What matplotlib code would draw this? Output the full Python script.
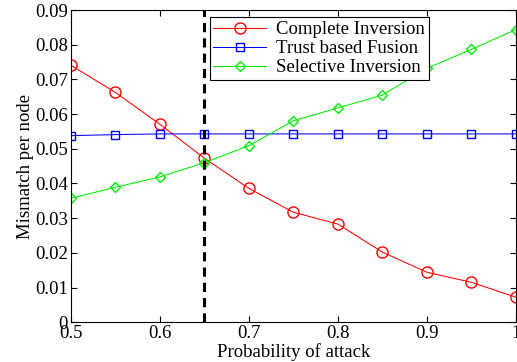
import matplotlib
matplotlib.use('Agg')
import matplotlib.pyplot as plt

# Data
p_attack = [0.5, 0.55, 0.6, 0.65, 0.7, 0.75, 0.8, 0.85, 0.9, 0.95, 1.0]
complete_inv = [0.0741, 0.0663, 0.0571, 0.0473, 0.0386, 0.0317, 0.0283, 0.0202, 0.0144, 0.0115, 0.0072]
trust_fusion = [0.0538, 0.0541, 0.0543, 0.0543, 0.0543, 0.0543, 0.0543, 0.0543, 0.0543, 0.0543, 0.0543]
selective_inv = [0.0357, 0.0389, 0.0419, 0.0460, 0.0509, 0.0581, 0.0618, 0.0655, 0.0732, 0.0787, 0.0844]
threshold = 0.65
xticks = [0.5, 0.6, 0.7, 0.8, 0.9, 1.0]
xticklabels = ['0.5', '0.6', '0.7', '0.8', '0.9', '1']
yticks = [0, 0.01, 0.02, 0.03, 0.04, 0.05, 0.06, 0.07, 0.08, 0.09]
yticklabels = ['0', '0.01', '0.02', '0.03', '0.04', '0.05', '0.06', '0.07', '0.08', '0.09']

plt.rcParams['font.family'] = ['Liberation Serif', 'DejaVu Serif']
plt.rcParams['font.size'] = 13.5

fig = plt.figure(figsize=(5.17, 3.62), dpi=100)
ax = fig.add_axes([0.137, 0.110, 0.861, 0.862])

ax.plot(p_attack, complete_inv, color='red', marker='o', markersize=8,
        markerfacecolor='none', linewidth=0.75, label='Complete Inversion')
ax.plot(p_attack, trust_fusion, color='blue', marker='s', markersize=6,
        markerfacecolor='none', linewidth=0.75, label='Trust based Fusion')
ax.plot(p_attack, selective_inv, color='#00ee00', marker='D', markersize=5.2,
        markerfacecolor='none', linewidth=0.75, label='Selective Inversion')
ax.axvline(threshold, color='black', linestyle=(0, (3, 2)), linewidth=2.2)

ax.set_xlim(0.5, 1.0)
ax.set_ylim(0, 0.09)
ax.set_xticks(xticks)
ax.set_xticklabels(xticklabels)
ax.set_yticks(yticks)
ax.set_yticklabels(yticklabels)
ax.tick_params(direction='in', top=True, right=True, length=4, pad=2)
ax.set_xlabel('Probability of attack', labelpad=1)
ax.set_ylabel('Mismatch per node', labelpad=1)

leg = ax.legend(loc='upper left', bbox_to_anchor=(0.312, 0.977), fancybox=False,
                edgecolor='black', framealpha=1, borderpad=0.2, handlelength=2.8,
                handletextpad=0.55, labelspacing=0.1, borderaxespad=0)
leg.get_frame().set_linewidth(0.8)

fig.savefig('out.png', dpi=100)
